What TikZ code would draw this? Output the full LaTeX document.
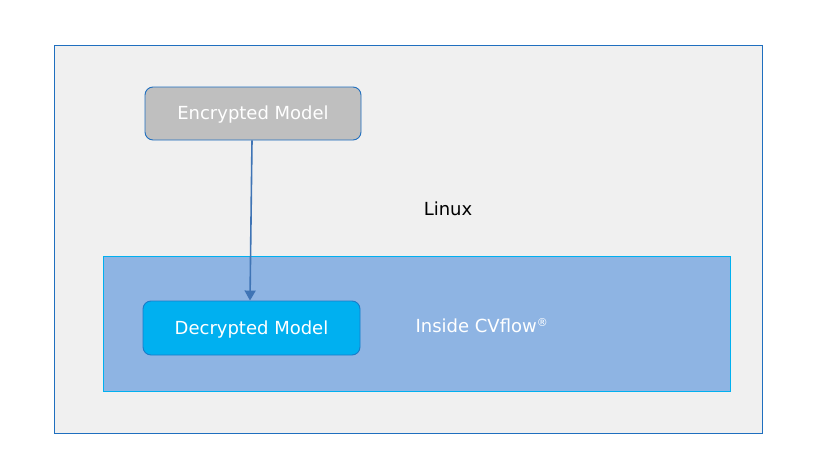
\documentclass[tikz,border=0pt]{standalone}
\usepackage{fontspec}
\setmainfont{DejaVu Sans}
\usetikzlibrary{arrows.meta}
\definecolor{bordblue}{HTML}{1F6FBF}
\definecolor{outerfill}{HTML}{F0F0F0}
\definecolor{innerfill}{HTML}{8EB4E3}
\definecolor{cyanb}{HTML}{00B0F0}
\definecolor{grayfill}{HTML}{BFBFBF}
\definecolor{arrowblue}{HTML}{3F74B5}
\tikzset{
  modelbox/.style={rounded corners=8pt, line width=0.9pt, inner sep=0pt},
  lbl/.style={font=\fontsize{18}{22}\selectfont, inner sep=0pt},
}
\begin{document}
\begin{tikzpicture}[x=1pt,y=-1pt]
\useasboundingbox (0,0) rectangle (833,471);
\fill[white] (0,0) rectangle (833,471);
\draw[bordblue, fill=outerfill, line width=1pt] (54,45) rectangle (762,433);
\node[lbl, text=black] (linux) at (448,209) {Linux};
\draw[cyanb, fill=innerfill, line width=1pt] (103,256) rectangle (730,391);
\node[modelbox, draw=bordblue, fill=grayfill, minimum width=216pt, minimum height=53pt] (enc) at (253,113.5) {};
\node[lbl, text=white, yshift=-1.5pt] at (enc.center) {Encrypted Model};
\node[modelbox, draw=bordblue!80!cyanb, fill=cyanb, minimum width=217pt, minimum height=54pt] (dec) at (251.5,328) {};
\node[lbl, text=white, yshift=-1.5pt] at (dec.center) {Decrypted Model};
\node[lbl, text=white] (cv) at (482,326) {Inside CVflow\textsuperscript{\fontsize{11}{12}\selectfont ®}};
\draw[arrowblue, line width=1.6pt, -{Triangle[width=11pt,length=10pt]}] (enc.south -| 252,0) -- (dec.north -| 250,0);
\end{tikzpicture}
\end{document}
